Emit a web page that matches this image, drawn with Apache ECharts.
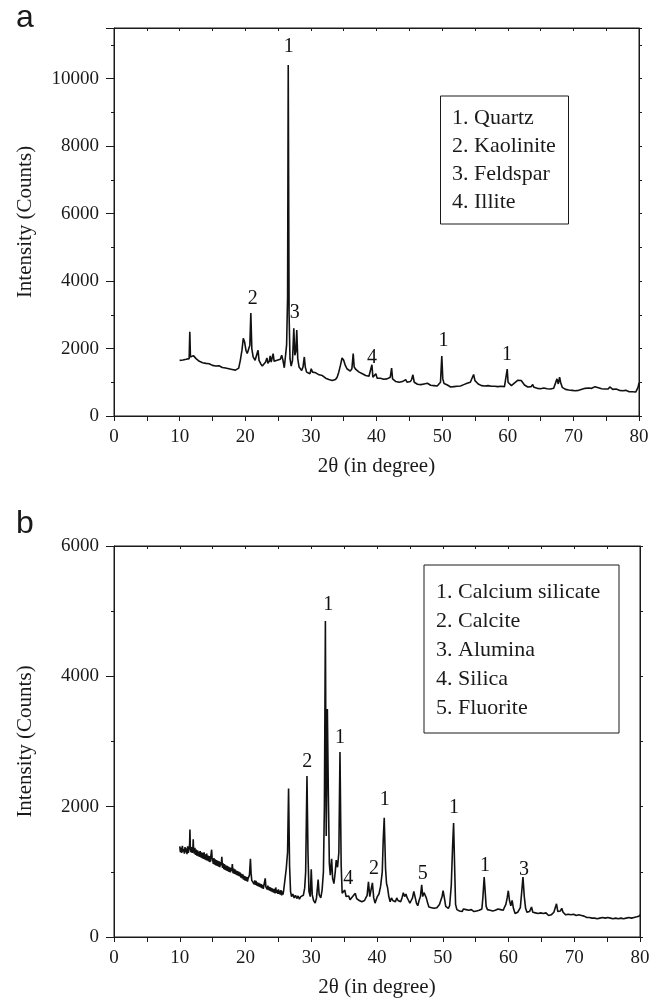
<!DOCTYPE html>
<html>
<head>
<meta charset="utf-8">
<script src="https://cdn.jsdelivr.net/npm/echarts@6/dist/echarts.min.js"></script>
<style>html,body{margin:0;padding:0;background:#fff}#c{width:665px;height:1001px}</style>
</head>
<body>
<div id="c"></div>
<script>
// ---------- DATA ----------
const xTicksLabel = '2θ (in degree)';
const yTitle = 'Intensity (Counts)';

// Panel a: XRD pattern [2θ, counts]
const patternA = [
[10.0,1650],[10.25,1610],[10.5,1660],[10.75,1620],[11.0,1680],[11.25,1650],[11.45,1700],[11.55,2500],[11.65,1750],[11.9,1720],
[12.1,1790],[12.3,1760],[12.5,1700],[12.75,1660],[13.0,1620],[13.25,1600],[13.5,1580],[13.75,1610],[14.0,1560],[14.25,1540],
[14.5,1550],[14.75,1510],[15.0,1500],[15.25,1520],[15.5,1480],[15.75,1470],[16.0,1490],[16.25,1450],[16.5,1440],[16.75,1460],
[17.0,1420],[17.25,1430],[17.5,1400],[17.75,1410],[18.0,1380],[18.25,1400],[18.5,1360],[18.75,1340],[19.0,1420],[19.25,1650],
[19.5,1950],[19.7,2300],[19.9,2200],[20.1,1950],[20.3,1850],[20.5,1800],[20.7,2100],[20.85,3050],[21.0,2000],[21.2,1750],
[21.5,1650],[21.75,1600],[21.95,1950],[22.1,1650],[22.35,1550],[22.6,1480],[22.85,1540],[23.1,1600],[23.3,1720],[23.45,1560],
[23.65,1620],[23.8,1780],[23.95,1600],[24.1,1650],[24.25,1850],[24.4,1620],[24.6,1580],[24.85,1650],[25.1,1700],[25.35,1680],
[25.55,1800],[25.75,1650],[25.95,1430],[26.15,1450],[26.3,2100],[26.45,3500],[26.55,10400],[26.68,3000],[26.82,1700],[27.0,1480],
[27.2,1650],[27.4,2600],[27.55,1800],[27.7,1900],[27.85,2550],[28.0,1700],[28.2,1450],[28.4,1420],[28.6,1350],[28.8,1450],
[29.0,1750],[29.15,1450],[29.35,1300],[29.6,1320],[29.85,1250],[30.05,1400],[30.25,1300],[30.5,1330],[30.75,1280],[31.0,1250],
[31.25,1220],[31.5,1180],[31.75,1200],[32.0,1150],[32.25,1120],[32.5,1140],[32.75,1080],[33.0,1100],[33.25,1050],[33.5,1020],
[33.75,1080],[34.0,1150],[34.25,1300],[34.5,1500],[34.75,1720],[35.0,1650],[35.25,1500],[35.5,1400],[35.75,1380],[36.0,1330],
[36.25,1400],[36.45,1850],[36.6,1450],[36.85,1380],[37.1,1350],[37.35,1300],[37.6,1280],[37.85,1250],[38.1,1220],[38.35,1200],
[38.6,1160],[38.85,1180],[39.1,1140],[39.3,1520],[39.45,1150],[39.7,1120],[39.9,1250],[40.1,1120],[40.35,1100],[40.6,1120],
[40.85,1080],[41.1,1090],[41.35,1060],[41.6,1100],[41.85,1080],[42.1,1150],[42.3,1420],[42.45,1100],[42.7,1050],[42.95,1020],
[43.2,1040],[43.45,1000],[43.7,990],[43.95,1020],[44.2,980],[44.45,1080],[44.65,1000],[44.9,980],[45.15,1020],[45.35,1080],
[45.55,1220],[45.75,1000],[46.0,960],[46.25,940],[46.5,960],[46.75,930],[47.0,920],[47.25,950],[47.5,930],[47.75,970],
[48.0,940],[48.25,910],[48.5,930],[48.75,900],[49.0,920],[49.25,890],[49.5,940],[49.75,1000],[49.95,1780],[50.1,1100],
[50.3,960],[50.55,980],[50.8,920],[51.05,880],[51.3,860],[51.55,830],[51.8,870],[52.05,850],[52.3,880],[52.55,900],
[52.8,890],[53.05,920],[53.3,930],[53.55,950],[53.8,970],[54.05,960],[54.3,1000],[54.55,980],[54.8,1230],[55.0,1050],
[55.25,1000],[55.5,950],[55.75,930],[56.0,900],[56.25,920],[56.5,890],[56.75,880],[57.0,900],[57.25,870],[57.5,880],
[57.75,860],[58.0,880],[58.25,850],[58.5,870],[58.75,860],[59.0,880],[59.25,850],[59.5,870],[59.75,900],[59.92,1390],
[60.05,1000],[60.3,950],[60.55,900],[60.8,940],[61.05,980],[61.3,1020],[61.55,1060],[61.8,1080],[62.05,1050],[62.3,1000],
[62.55,920],[62.8,880],[63.05,860],[63.3,880],[63.55,870],[63.8,930],[64.0,850],[64.25,830],[64.5,820],[64.75,840],
[65.0,810],[65.25,800],[65.5,830],[65.75,790],[66.0,810],[66.25,780],[66.5,800],[66.75,790],[67.0,820],[67.3,810],
[67.5,1100],[67.7,950],[67.9,1150],[68.05,1000],[68.3,850],[68.55,820],[68.8,790],[69.05,800],[69.3,770],[69.55,790],
[69.8,760],[70.05,780],[70.3,750],[70.55,770],[70.8,760],[71.05,780],[71.3,790],[71.55,800],[71.8,820],[72.05,800],
[72.3,830],[72.55,840],[72.8,820],[73.05,850],[73.3,870],[73.55,860],[73.8,840],[74.05,820],[74.3,810],[74.55,790],
[74.8,800],[75.05,810],[75.3,800],[75.55,860],[75.75,810],[76.0,790],[76.25,780],[76.5,800],[76.75,770],[77.0,760],
[77.25,780],[77.5,750],[77.75,740],[78.0,760],[78.25,730],[78.5,720],[78.75,700],[79.0,720],[79.25,690],[79.5,710],
[79.7,760],[79.85,850],[80.0,980]
];

// Panel b: XRD pattern [2θ, counts]
const patternB = [
[10.0,1390],[10.1,1300],[10.2,1370],[10.3,1290],[10.4,1400],[10.5,1310],[10.6,1350],[10.7,1280],[10.8,1380],[10.9,1300],
[11.0,1360],[11.1,1270],[11.2,1390],[11.3,1290],[11.4,1340],[11.5,1420],[11.55,1650],[11.6,1400],[11.7,1300],[11.8,1380],[11.9,1290],
[12.0,1360],[12.05,1500],[12.1,1350],[12.2,1280],[12.3,1370],[12.4,1260],[12.5,1340],[12.6,1250],[12.7,1330],[12.8,1240],[12.9,1310],
[13.0,1230],[13.1,1320],[13.2,1220],[13.3,1300],[13.4,1210],[13.5,1290],[13.6,1200],[13.7,1300],[13.8,1190],[13.9,1270],
[14.0,1180],[14.1,1280],[14.2,1170],[14.3,1250],[14.4,1160],[14.5,1240],[14.6,1150],[14.7,1220],[14.85,1340],[14.95,1160],
[15.0,1200],[15.1,1120],[15.2,1210],[15.3,1110],[15.4,1190],[15.5,1100],[15.6,1180],[15.7,1090],[15.8,1170],[15.9,1080],
[16.0,1160],[16.1,1070],[16.2,1150],[16.3,1100],[16.4,1230],[16.5,1060],[16.6,1130],[16.7,1040],[16.8,1120],[16.9,1030],
[17.0,1100],[17.1,1020],[17.2,1090],[17.3,1010],[17.4,1080],[17.5,1000],[17.6,1070],[17.7,990],[17.8,1060],[17.9,1010],
[18.0,1120],[18.1,980],[18.2,1050],[18.3,970],[18.4,1040],[18.5,960],[18.6,1020],[18.7,950],[18.8,1010],[18.9,940],
[19.0,1000],[19.1,930],[19.2,990],[19.3,910],[19.4,970],[19.5,900],[19.6,960],[19.7,880],[19.8,940],[19.9,870],
[20.0,930],[20.1,860],[20.2,920],[20.3,850],[20.4,900],[20.5,880],[20.6,950],[20.75,1200],[20.85,980],[20.95,870],
[21.1,840],[21.2,890],[21.3,810],[21.4,870],[21.5,800],[21.6,860],[21.7,790],[21.8,840],[21.9,780],[22.0,830],
[22.1,770],[22.2,820],[22.3,760],[22.4,810],[22.5,750],[22.6,800],[22.7,740],[22.8,790],[22.9,780],[23.0,900],[23.1,770],
[23.2,800],[23.3,730],[23.4,790],[23.5,720],[23.6,770],[23.7,710],[23.8,760],[23.9,700],[24.0,750],
[24.1,690],[24.2,740],[24.3,680],[24.4,740],[24.5,670],[24.6,760],[24.7,680],[24.8,720],[24.9,660],[25.0,730],
[25.1,660],[25.2,710],[25.3,650],[25.4,720],[25.5,640],[25.6,700],[25.7,650],[25.8,710],[25.9,680],[26.0,740],
[26.2,1050],[26.4,1300],[26.55,2280],[26.7,1100],[26.85,700],[27.0,620],[27.2,660],[27.4,600],[27.6,640],
[27.8,590],[28.0,630],[28.2,580],[28.4,620],[28.6,600],[28.8,640],[29.0,750],[29.15,1000],[29.35,2470],[29.5,1300],
[29.65,700],[29.85,620],[30.0,1040],[30.15,650],[30.35,560],[30.6,520],[30.8,600],[31.05,880],[31.2,650],[31.45,600],
[31.65,720],[31.85,1000],[32.0,2000],[32.15,4850],[32.28,1550],[32.45,3500],[32.6,2200],[32.75,1130],[32.9,950],[33.1,1200],
[33.25,900],[33.45,820],[33.65,1000],[33.8,1180],[34.0,1070],[34.2,1300],[34.37,2840],[34.55,1100],[34.7,670],[34.9,650],
[35.1,720],[35.3,620],[35.5,600],[35.7,630],[35.9,570],[36.1,600],[36.3,620],[36.5,600],[36.7,670],[36.9,590],
[37.1,610],[37.3,560],[37.5,580],[37.7,540],[37.9,560],[38.1,560],[38.3,600],[38.5,640],[38.7,845],[38.9,620],
[39.05,700],[39.3,830],[39.5,600],[39.7,520],[39.85,490],[40.05,620],[40.3,660],[40.55,780],[40.8,1000],[40.95,1500],
[41.1,1830],[41.3,1050],[41.45,820],[41.6,760],[41.8,620],[42.0,540],[42.2,600],[42.4,560],[42.6,580],[42.8,540],
[43.0,600],[43.2,560],[43.4,580],[43.6,540],[43.8,600],[44.0,680],[44.2,620],[44.4,660],[44.6,600],[44.8,560],
[45.0,520],[45.2,560],[45.4,600],[45.6,700],[45.8,720],[46.0,520],[46.2,480],[46.4,560],[46.6,620],[46.8,800],
[46.95,620],[47.15,680],[47.3,650],[47.5,600],[47.7,520],[47.9,460],[48.1,470],[48.3,450],[48.5,470],[48.7,440],
[48.9,460],[49.1,450],[49.3,480],[49.5,500],[49.7,520],[49.9,620],[50.05,710],[50.25,600],[50.45,470],[50.65,450],
[50.85,440],[51.05,480],[51.3,800],[51.5,1400],[51.65,1750],[51.8,1100],[51.95,500],[52.15,420],[52.35,450],[52.55,400],
[52.75,420],[52.95,390],[53.15,430],[53.35,400],[53.55,420],[53.75,390],[53.95,410],[54.15,380],[54.35,420],[54.55,400],
[54.75,390],[54.95,420],[55.15,400],[55.35,380],[55.55,410],[55.75,420],[55.95,430],[56.1,600],[56.3,920],[56.45,700],
[56.6,470],[56.8,420],[57.0,430],[57.2,410],[57.4,420],[57.6,400],[57.8,430],[58.0,410],[58.2,420],[58.4,430],
[58.6,400],[58.8,420],[59.0,390],[59.2,410],[59.4,460],[59.6,500],[59.8,600],[59.97,710],[60.15,560],[60.35,480],
[60.55,560],[60.75,440],[61.0,360],[61.2,340],[61.4,380],[61.6,400],[61.8,450],[62.0,680],[62.2,920],[62.4,620],
[62.6,440],[62.8,380],[63.0,400],[63.2,390],[63.5,460],[63.7,380],[63.9,360],[64.1,370],[64.3,340],[64.5,360],
[64.7,350],[64.9,370],[65.1,340],[65.3,360],[65.5,340],[65.7,370],[65.9,350],[66.1,330],[66.3,360],[66.5,340],
[66.7,350],[66.9,380],[67.1,400],[67.3,510],[67.5,390],[67.7,380],[67.9,400],[68.1,440],[68.3,380],[68.5,350],
[68.7,340],[68.9,330],[69.1,350],[69.3,330],[69.5,340],[69.7,320],[69.9,350],[70.1,340],[70.3,330],[70.5,350],
[70.7,340],[70.9,360],[71.1,330],[71.3,340],[71.5,320],[71.7,330],[71.9,300],[72.1,320],[72.3,300],[72.5,310],
[72.7,290],[72.9,310],[73.1,290],[73.3,300],[73.5,280],[73.7,300],[73.9,290],[74.1,280],[74.3,300],[74.5,270],
[74.7,290],[74.9,280],[75.1,300],[75.3,270],[75.5,290],[75.7,260],[75.9,280],[76.1,270],[76.3,290],[76.5,260],
[76.7,280],[76.9,270],[77.1,290],[77.3,260],[77.5,280],[77.7,270],[77.9,290],[78.1,280],[78.3,300],[78.5,270],
[78.7,290],[78.9,280],[79.1,300],[79.3,290],[79.5,310],[79.7,300],[79.85,320],[80.0,340]
];

// Peak annotations [2θ, counts, label]
const peaksA = [[26.63,10950,'1'],[21.15,3470,'2'],[27.55,3070,'3'],[39.33,1740,'4'],[50.2,2230,'1'],[59.87,1810,'1']];
const peaksB = [[32.6,5095,'1'],[29.4,2690,'2'],[34.37,3050,'1'],[35.64,900,'4'],[39.54,1050,'2'],[41.17,2100,'1'],
                [46.95,975,'5'],[51.71,1990,'1'],[56.43,1100,'1'],[62.36,1035,'3']];

// Legend entries
const legendA = ['1. Quartz','2. Kaolinite','3. Feldspar','4. Illite'];
const legendB = ['1. Calcium silicate','2. Calcite','3. Alumina','4. Silica','5. Fluorite'];

// Axis ranges / ticks
const xMin = 0, xMax = 80, xStep = 10;
const yMaxA = 11500, yStepA = 2000;
const yMaxB = 6000, yStepB = 2000;

// ---------- CHART ----------
const SERIF = "'Liberation Serif','Times New Roman',serif";
const INK = '#1a1a1a';
const chart = echarts.init(document.getElementById('c'), null, {renderer:'canvas'});

function bottomX(grid){
  return {type:'value', gridIndex:grid, min:xMin, max:xMax, interval:xStep, position:'bottom',
    axisLine:{show:true, onZero:false, lineStyle:{color:INK, width:1}},
    axisTick:{show:true, length:5, lineStyle:{color:INK}},
    minorTick:{show:true, splitNumber:2, length:5, lineStyle:{color:INK}},
    splitLine:{show:false}, minorSplitLine:{show:false},
    axisLabel:{fontFamily:SERIF, fontSize:19, color:INK, margin:12},
    name:xTicksLabel, nameLocation:'middle', nameGap:40,
    nameTextStyle:{fontFamily:SERIF, fontSize:21, color:INK}};
}
function topX(grid){
  return {type:'value', gridIndex:grid, min:xMin, max:xMax, interval:xStep, position:'top',
    axisLine:{show:true, onZero:false, lineStyle:{color:INK, width:1}},
    axisTick:{show:true, inside:true, length:3, lineStyle:{color:INK}},
    minorTick:{show:true, splitNumber:2, length:3, lineStyle:{color:INK}},
    splitLine:{show:false}, axisLabel:{show:false}};
}
function leftY(grid, max, step){
  return {type:'value', gridIndex:grid, min:0, max:max, interval:step, position:'left',
    axisLine:{show:true, onZero:false, lineStyle:{color:INK, width:1}},
    axisTick:{show:true, length:8, lineStyle:{color:INK}},
    minorTick:{show:true, splitNumber:2, length:3, lineStyle:{color:INK}},
    splitLine:{show:false},
    axisLabel:{fontFamily:SERIF, fontSize:19, color:INK, margin:15,
      formatter:v => (v % step === 0 ? String(v) : '')},
    name:yTitle, nameLocation:'middle', nameGap:78, nameRotate:90,
    nameTextStyle:{fontFamily:SERIF, fontSize:21, color:INK}};
}
function rightY(grid, max, step){
  return {type:'value', gridIndex:grid, min:0, max:max, interval:step, position:'right',
    axisLine:{show:true, onZero:false, lineStyle:{color:INK, width:1}},
    axisTick:{show:true, length:3, lineStyle:{color:INK}},
    minorTick:{show:true, splitNumber:2, length:3, lineStyle:{color:INK}},
    splitLine:{show:false}, axisLabel:{show:false}};
}
function peakSeries(peaks, xi, yi){
  return {type:'scatter', xAxisIndex:xi, yAxisIndex:yi, symbolSize:1, silent:true, z:5,
    itemStyle:{color:'rgba(255,255,255,0)'},
    label:{show:true, position:[0.5, 0.5], align:'center', verticalAlign:'middle',
      formatter:'{b}', fontFamily:SERIF, fontSize:20, color:'#111', opacity:1},
    data:peaks.map(p => ({name:p[2], value:[p[0], p[1]]}))};
}
function legendGraphic(entries, x, y, w, h, tx, ty0, dy){
  const children = [{type:'rect', shape:{x:x, y:y, width:w, height:h},
    style:{fill:'#fff', stroke:INK, lineWidth:1}}];
  entries.forEach((t, i) => children.push({type:'text', x:tx, y:ty0 + i*dy,
    style:{text:t, font:'22px ' + SERIF, fill:INK, verticalAlign:'middle'}}));
  return {type:'group', children:children};
}

chart.setOption({
  animation:false,
  backgroundColor:'#fff',
  grid:[
    {left:114, right:26, top:28, height:388, show:true, borderColor:INK, borderWidth:1, backgroundColor:'transparent'},
    {left:114, right:25, top:546, height:391, show:true, borderColor:INK, borderWidth:1, backgroundColor:'transparent'}
  ],
  xAxis:[bottomX(0), topX(0), bottomX(1), topX(1)],
  yAxis:[leftY(0, yMaxA, yStepA), rightY(0, yMaxA, yStepA), leftY(1, yMaxB, yStepB), rightY(1, yMaxB, yStepB)],
  series:[
    {type:'line', xAxisIndex:0, yAxisIndex:0, data:patternA, showSymbol:false, symbol:'none',
      lineStyle:{color:'#111', width:1.6}, silent:true},
    {type:'line', xAxisIndex:2, yAxisIndex:2, data:patternB, showSymbol:false, symbol:'none',
      lineStyle:{color:'#111', width:1.6}, silent:true},
    peakSeries(peaksA, 0, 0),
    peakSeries(peaksB, 2, 2)
  ],
  graphic:[
    {type:'text', left:16, top:2, style:{text:'a', font:'32px "Liberation Sans", Arial, sans-serif', fill:INK}},
    {type:'text', left:16, top:508, style:{text:'b', font:'32px "Liberation Sans", Arial, sans-serif', fill:INK}},
    legendGraphic(legendA, 440.5, 96, 128, 128, 452, 118, 28),
    legendGraphic(legendB, 424, 565, 195, 168, 436, 592, 29)
  ]
});
</script>
</body>
</html>
